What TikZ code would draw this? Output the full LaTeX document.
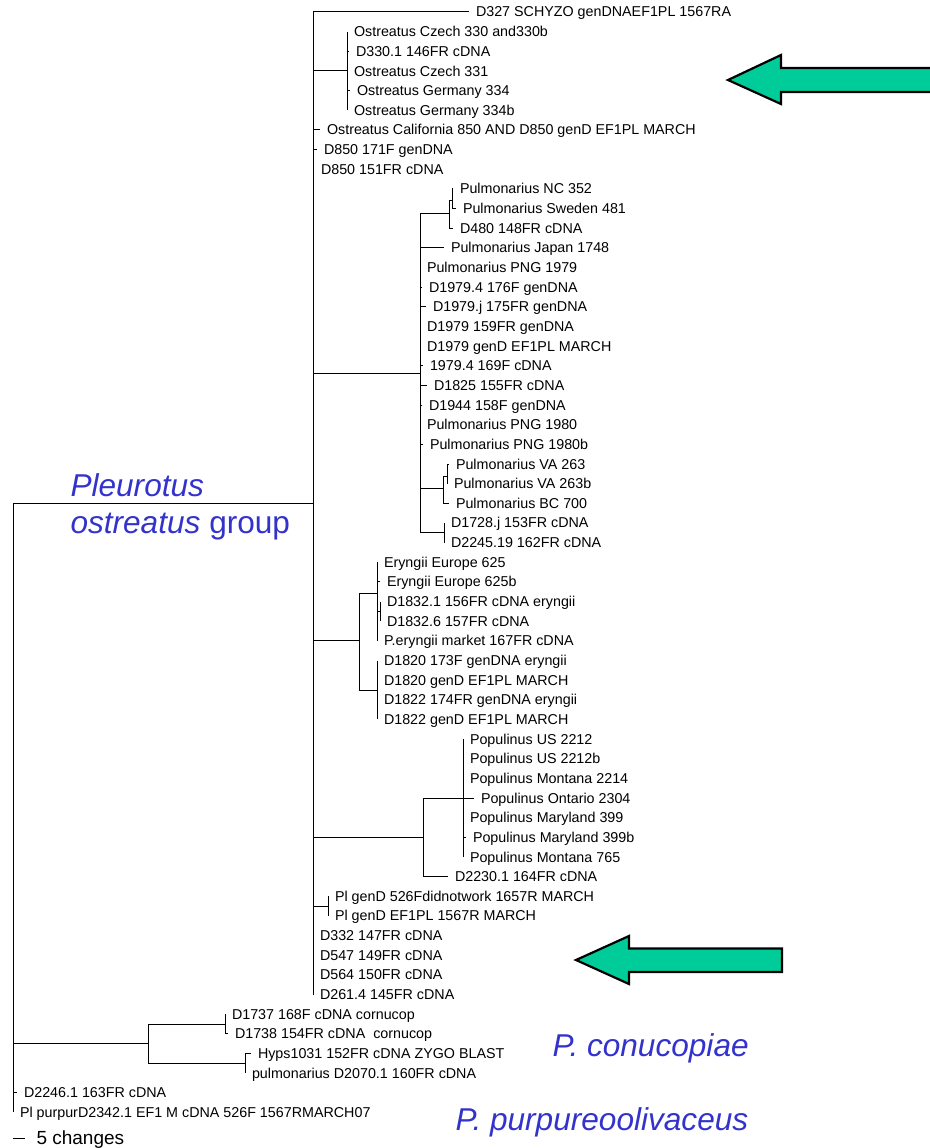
\documentclass[tikz,border=0pt]{standalone}
\usepackage{fontspec}
\setmainfont{Liberation Sans}
\definecolor{grpblue}{RGB}{51,51,204}
\definecolor{arrowgreen}{RGB}{0,204,153}

\begin{document}
\begin{tikzpicture}[x=1pt,y=-1pt,line width=1pt,
  leaf/.style={anchor=west,inner xsep=6.5pt,inner ysep=0pt,text height=10pt,text depth=0pt,font=\fontsize{14.3}{16}\selectfont},
  grp/.style={grpblue,inner sep=0pt,anchor=base west,font=\fontsize{31.6}{37}\selectfont\itshape},
  pointer/.style={draw=black,fill=arrowgreen,line width=2.2pt,line join=miter}]
  \useasboundingbox (0,0) rectangle (929,1148);

  % internal nodes
  \coordinate (root) at (13,503.3);
  \coordinate (og) at (313,503.3);
  \coordinate (cz) at (347,71);
  \coordinate (pul) at (420,373);
  \coordinate (pul1) at (449,213);
  \coordinate (pul2) at (452,200);
  \coordinate (va1) at (443,488);
  \coordinate (va2) at (447,476);
  \coordinate (dcl) at (444,532.8);
  \coordinate (ery) at (359,640);
  \coordinate (ery1) at (377,593);
  \coordinate (ery2) at (380,611.4);
  \coordinate (ery3) at (377,690);
  \coordinate (pop) at (423,837);
  \coordinate (pop1) at (463,798);
  \coordinate (plg) at (328,906);
  \coordinate (corn) at (148,1043);
  \coordinate (corn1) at (225,1024);
  \coordinate (corn2) at (245,1063.3);

  % leaves
  \node[leaf] (d327) at (469,12) {D327 SCHYZO genDNAEF1PL 1567RA};
  \node[leaf] (cz330) at (347,31.7) {Ostreatus Czech 330 and330b};
  \node[leaf] (d3301) at (349,51.3) {D330.1 146FR cDNA};
  \node[leaf] (cz331) at (347,71) {Ostreatus Czech 331};
  \node[leaf] (ge334) at (350,90.6) {Ostreatus Germany 334};
  \node[leaf] (ge334b) at (347,110.3) {Ostreatus Germany 334b};
  \node[leaf] (ca850) at (320,129.9) {Ostreatus California 850 AND D850 genD EF1PL MARCH};
  \node[leaf] (d850a) at (317,149.6) {D850 171F genDNA};
  \node[leaf] (d850b) at (314,169.2) {D850 151FR cDNA};
  \node[leaf] (nc352) at (453,188.9) {Pulmonarius NC 352};
  \node[leaf] (sw481) at (456,208.5) {Pulmonarius Sweden 481};
  \node[leaf] (d480) at (453,228.2) {D480 148FR cDNA};
  \node[leaf] (jp1748) at (444,247.8) {Pulmonarius Japan 1748};
  \node[leaf] (png1979) at (420,267.5) {Pulmonarius PNG 1979};
  \node[leaf] (d19794) at (422,287.1) {D1979.4 176F genDNA};
  \node[leaf] (d1979j) at (426,306.8) {D1979.j 175FR genDNA};
  \node[leaf] (d1979a) at (420,326.4) {D1979 159FR genDNA};
  \node[leaf] (d1979b) at (420,346.1) {D1979 genD EF1PL MARCH};
  \node[leaf] (c19794) at (423,365.7) {1979.4 169F cDNA};
  \node[leaf] (d1825) at (427,385.4) {D1825 155FR cDNA};
  \node[leaf] (d1944) at (422,405) {D1944 158F genDNA};
  \node[leaf] (png1980) at (420,424.7) {Pulmonarius PNG 1980};
  \node[leaf] (png1980b) at (423,444.3) {Pulmonarius PNG 1980b};
  \node[leaf] (va263) at (449,464) {Pulmonarius VA 263};
  \node[leaf] (va263b) at (447,483.6) {Pulmonarius VA 263b};
  \node[leaf] (bc700) at (449,503.3) {Pulmonarius BC 700};
  \node[leaf] (d1728) at (444,522.9) {D1728.j 153FR cDNA};
  \node[leaf] (d2245) at (444,542.6) {D2245.19 162FR cDNA};
  \node[leaf] (eu625) at (377,562.2) {Eryngii Europe 625};
  \node[leaf] (eu625b) at (380,581.9) {Eryngii Europe 625b};
  \node[leaf] (d18321) at (380,601.5) {D1832.1 156FR cDNA eryngii};
  \node[leaf] (d18326) at (380,621.2) {D1832.6 157FR cDNA};
  \node[leaf] (pmkt) at (377,640.8) {P.eryngii market 167FR cDNA};
  \node[leaf] (d1820a) at (377,660.5) {D1820 173F genDNA eryngii};
  \node[leaf] (d1820b) at (377,680.1) {D1820 genD EF1PL MARCH};
  \node[leaf] (d1822a) at (377,699.8) {D1822 174FR genDNA eryngii};
  \node[leaf] (d1822b) at (377,719.4) {D1822 genD EF1PL MARCH};
  \node[leaf] (us2212) at (463,739.1) {Populinus US 2212};
  \node[leaf] (us2212b) at (463,758.7) {Populinus US 2212b};
  \node[leaf] (mt2214) at (463,778.4) {Populinus Montana 2214};
  \node[leaf] (on2304) at (474,798) {Populinus Ontario 2304};
  \node[leaf] (md399) at (463,817.7) {Populinus Maryland 399};
  \node[leaf] (md399b) at (466,837.3) {Populinus Maryland 399b};
  \node[leaf] (mt765) at (463,857) {Populinus Montana 765};
  \node[leaf] (d2230) at (448,876.6) {D2230.1 164FR cDNA};
  \node[leaf] (plg526) at (328,896.3) {Pl genD 526Fdidnotwork 1657R MARCH};
  \node[leaf] (plgef) at (328,915.9) {Pl genD EF1PL 1567R MARCH};
  \node[leaf] (d332) at (313,935.6) {D332 147FR cDNA};
  \node[leaf] (d547) at (313,955.2) {D547 149FR cDNA};
  \node[leaf] (d564) at (313,974.9) {D564 150FR cDNA};
  \node[leaf] (d2614) at (313,994.5) {D261.4 145FR cDNA};
  \node[leaf] (d1737) at (225,1014.2) {D1737 168F cDNA cornucop};
  \node[leaf] (d1738) at (228,1033.8) {D1738 154FR cDNA\ \ cornucop};
  \node[leaf] (hyps) at (251,1053.5) {Hyps1031 152FR cDNA ZYGO BLAST};
  \node[leaf] (d2070) at (245,1073.1) {pulmonarius D2070.1 160FR cDNA};
  \node[leaf] (d2246) at (17,1092.8) {D2246.1 163FR cDNA};
  \node[leaf] (purpur) at (13,1112.4) {Pl purpurD2342.1 EF1 M cDNA 526F 1567RMARCH07};

  % branches
  \draw (root) |- (og);
  \draw (root) |- (corn);
  \draw (root) |- (d2246);
  \draw (root) |- (purpur);
  \draw (og) |- (d327);
  \draw (og) |- (cz);
  \draw (og) |- (ca850);
  \draw (og) |- (d850a);
  \draw (og) |- (d850b);
  \draw (og) |- (pul);
  \draw (og) |- (ery);
  \draw (og) |- (pop);
  \draw (og) |- (plg);
  \draw (og) |- (d332);
  \draw (og) |- (d547);
  \draw (og) |- (d564);
  \draw (og) |- (d2614);
  \draw (cz) |- (cz330);
  \draw (cz) |- (d3301);
  \draw (cz) |- (cz331);
  \draw (cz) |- (ge334);
  \draw (cz) |- (ge334b);
  \draw (pul) |- (pul1);
  \draw (pul1) |- (pul2);
  \draw (pul2) |- (nc352);
  \draw (pul2) |- (sw481);
  \draw (pul1) |- (d480);
  \draw (pul) |- (jp1748);
  \draw (pul) |- (png1979);
  \draw (pul) |- (d19794);
  \draw (pul) |- (d1979j);
  \draw (pul) |- (d1979a);
  \draw (pul) |- (d1979b);
  \draw (pul) |- (c19794);
  \draw (pul) |- (d1825);
  \draw (pul) |- (d1944);
  \draw (pul) |- (png1980);
  \draw (pul) |- (png1980b);
  \draw (pul) |- (va1);
  \draw (va1) |- (va2);
  \draw (va2) |- (va263);
  \draw (va2) |- (va263b);
  \draw (va1) |- (bc700);
  \draw (pul) |- (dcl);
  \draw (dcl) |- (d1728);
  \draw (dcl) |- (d2245);
  \draw (ery) |- (ery1);
  \draw (ery) |- (ery3);
  \draw (ery1) |- (eu625);
  \draw (ery1) |- (eu625b);
  \draw (ery1) |- (ery2);
  \draw (ery2) |- (d18321);
  \draw (ery2) |- (d18326);
  \draw (ery1) |- (pmkt);
  \draw (ery3) |- (d1820a);
  \draw (ery3) |- (d1820b);
  \draw (ery3) |- (d1822a);
  \draw (ery3) |- (d1822b);
  \draw (pop) |- (pop1);
  \draw (pop) |- (d2230);
  \draw (pop1) |- (us2212);
  \draw (pop1) |- (us2212b);
  \draw (pop1) |- (mt2214);
  \draw (pop1) |- (on2304);
  \draw (pop1) |- (md399);
  \draw (pop1) |- (md399b);
  \draw (pop1) |- (mt765);
  \draw (plg) |- (plg526);
  \draw (plg) |- (plgef);
  \draw (corn) |- (corn1);
  \draw (corn) |- (corn2);
  \draw (corn1) |- (d1737);
  \draw (corn1) |- (d1738);
  \draw (corn2) |- (hyps);
  \draw (corn2) |- (d2070);

  % scale bar
  \coordinate (sb) at (13,1138);
  \node[anchor=west,inner xsep=11pt,inner ysep=0pt,text height=13.6pt,text depth=0pt,font=\fontsize{19}{22}\selectfont] (sclab) at (25,1138) {5 changes};
  \draw (sb) -- (sclab.west);

  % group labels
  \node[grp,align=left] (ostgrp) at (70,533) {Pleurotus\\ostreatus\upshape{} group};
  \node[grp] (corngrp) at (552,1056) {P. conucopiae};
  \node[grp] (purpgrp) at (455,1130) {P. purpureoolivaceus};

  % arrows
  \draw[pointer] (728,80) -- (781,55) -- (781,68) -- (945,68) -- (945,92) -- (781,92) -- (781,104) -- cycle;
  \draw[pointer] (576,960) -- (629,936) -- (629,948.5) -- (782,948.5) -- (782,972) -- (629,972) -- (629,984) -- cycle;
\end{tikzpicture}
\end{document}
